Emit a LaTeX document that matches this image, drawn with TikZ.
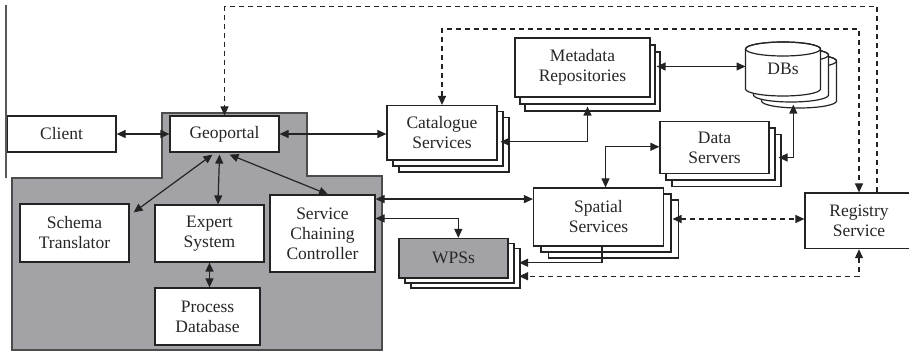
\documentclass[tikz,border=0pt]{standalone}
\usepackage{fontspec}
\setmainfont{Liberation Serif}
\usetikzlibrary{arrows.meta,shadows,calc}
\definecolor{regiongray}{RGB}{163,163,167}
\definecolor{linecol}{RGB}{35,35,35}
\newcommand\dbcyl[2]{%
  \path[draw=linecol, fill=white, line width=1.2pt] ($(745.5,49)+(#1,#2)$) -- ++(0,40)
    arc[start angle=180,end angle=360,x radius=37.5pt,y radius=7pt] -- ++(0,-40)
    arc[start angle=0,end angle=180,x radius=37.5pt,y radius=7pt] -- cycle;
  \draw[linecol, line width=1.2pt] ($(783,49)+(#1,#2)$) ellipse [x radius=37.5pt, y radius=7pt];}
\begin{document}
\begin{tikzpicture}[x=1pt,y=-1pt,
  every node/.style={font=\fontsize{17.5}{20}\selectfont, text=black!85},
  >={Triangle[length=9pt,width=8pt]},
  box/.style={draw=linecol, fill=white, line width=1.2pt, align=center, inner sep=0pt},
  stackbox/.style 2 args={box, double copy shadow={shadow xshift=#1, shadow yshift=#2,
      fill=white, draw=linecol, line width=1.2pt}},
  conn/.style={draw=linecol, line width=1.2pt, <->},
  dconn/.style={draw=linecol, line width=1.2pt, dash pattern=on 5pt off 4pt, <->}
]
\useasboundingbox (0,0) rectangle (909,352);

% shaded region
\path[draw=black!70, fill=regiongray, line width=1.2pt]
  (162,113) -- (307,113) -- (307,176) -- (382,176) -- (382,350) -- (12,350) -- (12,178) -- (162,178) -- cycle;

% boxes
\node[box, minimum width=109pt, minimum height=36pt] (client) at (61.5,134) {Client};
\node[box, minimum width=109pt, minimum height=36pt] (geo) at (224.5,134) {Geoportal};
\node[box, minimum width=109pt, minimum height=58pt] (schema) at (74.5,233) {Schema\\Translator};
\node[box, minimum width=109pt, minimum height=57pt] (expert) at (209.5,233.5) {Expert\\System};
\node[box, minimum width=105pt, minimum height=77pt] (scc) at (322.5,233.5) {Service\\Chaining\\Controller};
\node[box, minimum width=105pt, minimum height=57pt] (proc) at (207.5,316.5) {Process\\Database};

\node[stackbox={6pt}{-6pt}, minimum width=110pt, minimum height=54.5pt] (cat) at (442,132.75) {Catalogue\\Services};
\node[stackbox={5pt}{-7pt}, minimum width=135pt, minimum height=59pt] (meta) at (582.5,67.5) {Metadata\\Repositories};
\node[stackbox={6pt}{-6.5pt}, minimum width=109pt, minimum height=52pt] (data) at (714.5,147.5) {Data\\Servers};
\node[stackbox={7.5pt}{-6pt}, minimum width=130pt, minimum height=58pt] (spatial) at (598.5,217) {Spatial\\Services};
\node[stackbox={6pt}{-5pt}, fill=regiongray, minimum width=109pt, minimum height=39.5pt] (wps) at (453.5,258.25) {WPSs};
\node[box, minimum width=108pt, minimum height=55.6pt] (reg) at (859,220.8) {Registry\\Service};

% databases
\dbcyl{16}{12}
\dbcyl{8}{6}
\dbcyl{0}{0}
\node (db) at (783,69) {DBs};
\coordinate (dbw) at (745.5,66.5);
\coordinate (dbs) at (793.3,104.6);

% solid connectors
\draw[conn] (client.east) -- (geo.west);
\draw[conn] (geo.east) -- (geo.east -| cat.west);
\draw[conn] ($(geo.south)+(-12,2)$) -- ($(schema.north east)+(4,9)$);
\draw[conn] ($(geo.south)+(-5,2)$) -- ($(expert.north)+(8.5,0)$);
\draw[conn] ($(geo.south)+(5,2)$) -- ($(scc.north)+(5.5,0)$);
\draw[conn] (expert.south) -- (expert.south |- proc.north);
\draw[conn] ($(scc.north east)+(0,4.7)$) -- ($(spatial.north west)+(0,11.7)$);
\draw[conn] ($(scc.north east)+(0,24)$) -| ($(wps.north)+(4.8,0)$);
\draw[draw=linecol, line width=1.2pt, ->] ($(spatial.south)+(3.5,0)$) |- ($(wps.east)+(10.5,4.5)$);
\draw[conn] ($(cat.east)+(3,9)$) -| ($(meta.south)+(5,9)$);
\draw[conn] ($(meta.east)+(6,-1)$) -- (dbw);
\draw[conn] ($(data.east)+(9,10)$) -| (dbs);
\draw[conn] ($(data.west)+(0,-0.7)$) -| ($(spatial.north)+(7,0)$);

% dashed connectors
\draw[dconn] ($(spatial.east)+(8.4,2)$) -- ($(reg.west)+(0,-1.8)$);
\draw[dconn] (reg.south) |- ($(wps.east)+(10.5,18)$);
\draw[dconn, -> ] ($(reg.north)+(18,0)$) |- ($(geo.north)+(0,-108.6)$) -- (geo.north);
\draw[dconn] (cat.north) |- ($(reg.north)+(0,-163.3)$) -- (reg.north);

% left edge line
\draw[black!65, line width=2pt] (6,5) -- (6,178);
\end{tikzpicture}
\end{document}
